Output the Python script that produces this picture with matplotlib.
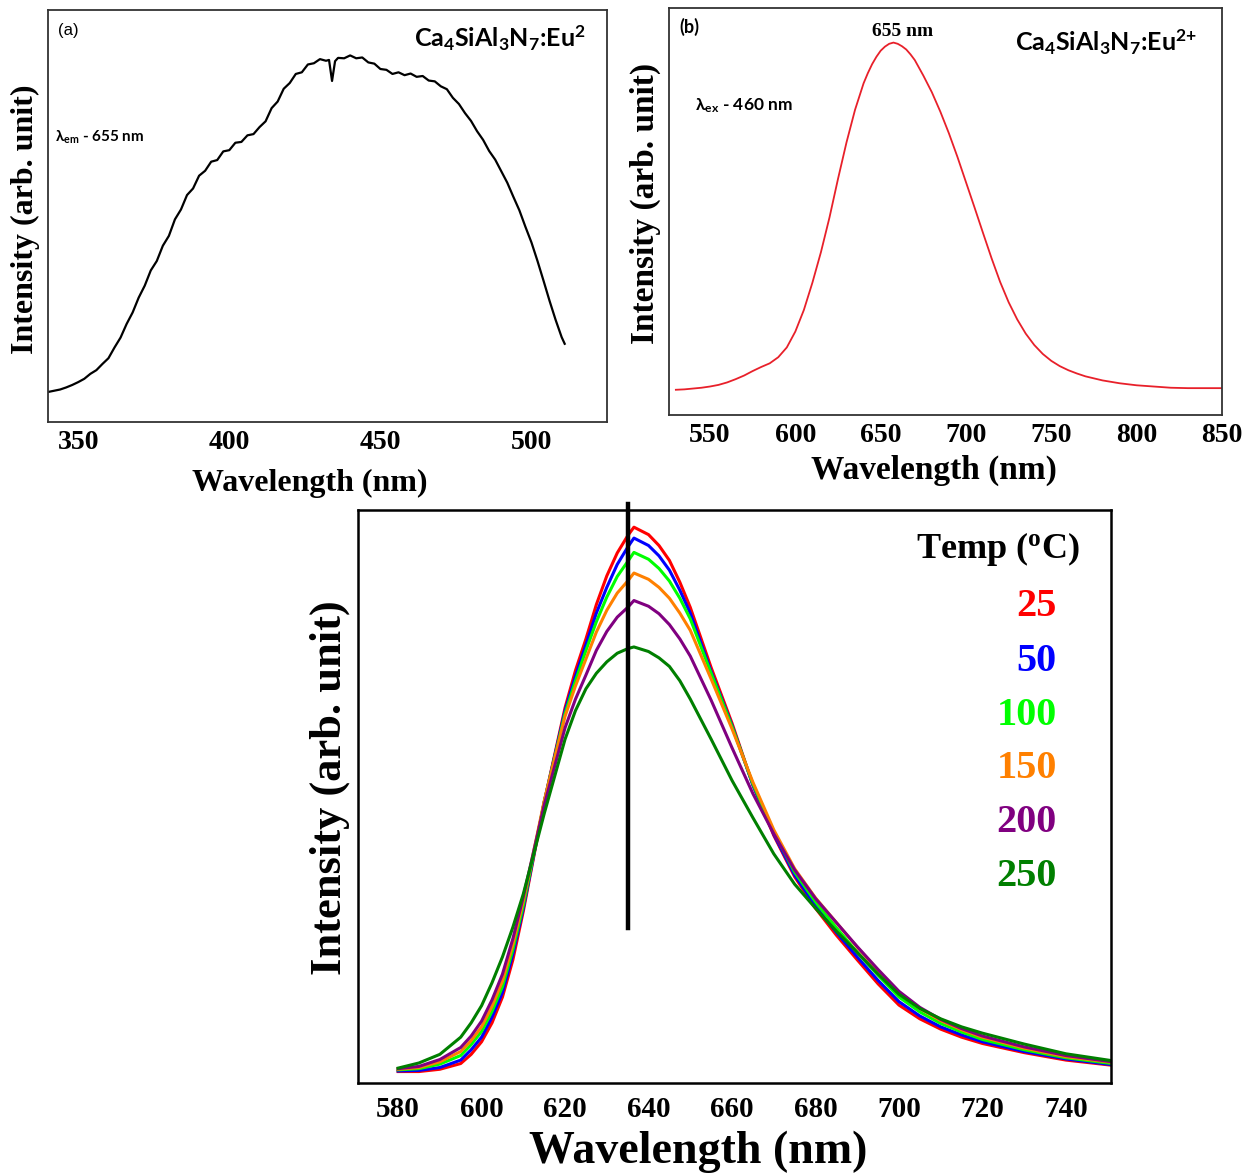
import matplotlib
matplotlib.use("Agg")
import matplotlib.pyplot as plt

plt.rcParams['mathtext.fontset'] = 'custom'
plt.rcParams['mathtext.rm'] = 'Lato:bold'
plt.rcParams['mathtext.it'] = 'Lato:bold'
plt.rcParams['mathtext.bf'] = 'Liberation Serif:bold'

SERIF = 'Liberation Serif'
SANS = ['Lato', 'DejaVu Sans']

# (a) excitation spectrum, lambda_em = 655 nm
exc_wl = [340, 342, 344, 346, 348, 350, 352, 354, 356, 358, 360, 362, 364, 366, 368,
          370, 372, 374, 376, 378, 380, 382, 384, 386, 388, 390, 392, 394, 396, 398,
          400, 402, 404, 406, 408, 410, 412, 414, 416, 418, 420, 422, 424, 426, 428,
          430, 432, 433, 434, 435, 436, 438, 440, 442, 444, 446, 448, 450, 452, 454,
          456, 458, 460, 462, 464, 466, 468, 470, 472, 474, 476, 478, 480, 482, 484,
          486, 488, 490, 492, 494, 496, 498, 500, 502, 504, 506, 508, 510, 511]
exc_int = [0.073, 0.076, 0.079, 0.084, 0.090, 0.097, 0.105, 0.117, 0.126, 0.141, 0.155, 0.181, 0.205, 0.238, 0.266,
           0.302, 0.331, 0.368, 0.391, 0.428, 0.452, 0.492, 0.516, 0.551, 0.567, 0.598, 0.610, 0.632, 0.636, 0.657,
           0.660, 0.678, 0.680, 0.696, 0.699, 0.716, 0.730, 0.762, 0.778, 0.809, 0.823, 0.845, 0.849, 0.868, 0.871,
           0.881, 0.877, 0.879, 0.828, 0.876, 0.884, 0.883, 0.890, 0.883, 0.885, 0.873, 0.870, 0.857, 0.855, 0.845,
           0.849, 0.842, 0.846, 0.838, 0.840, 0.829, 0.827, 0.815, 0.808, 0.787, 0.772, 0.750, 0.731, 0.706, 0.685,
           0.658, 0.637, 0.609, 0.581, 0.547, 0.514, 0.474, 0.436, 0.391, 0.343, 0.294, 0.248, 0.206, 0.190]

# (b) emission spectrum, lambda_ex = 460 nm
em_wl = [530, 535, 540, 545, 550, 555, 560, 565, 570, 575, 580, 585, 590, 595, 600,
         605, 610, 615, 620, 625, 630, 635, 640, 642.5, 645, 647.5, 650, 652.5, 655, 657.5,
         660, 662.5, 665, 667.5, 670, 675, 680, 685, 690, 695, 700, 705, 710, 715, 720,
         725, 730, 735, 740, 745, 750, 755, 760, 765, 770, 780, 790, 800, 810, 820,
         830, 840, 850]
em_int = [0.062, 0.063, 0.065, 0.067, 0.070, 0.074, 0.080, 0.088, 0.097, 0.108, 0.118, 0.127, 0.142, 0.166, 0.205,
          0.258, 0.325, 0.400, 0.485, 0.580, 0.670, 0.750, 0.815, 0.840, 0.862, 0.880, 0.895, 0.905, 0.912, 0.915,
          0.912, 0.906, 0.898, 0.886, 0.872, 0.834, 0.793, 0.745, 0.692, 0.634, 0.572, 0.510, 0.447, 0.385, 0.327,
          0.277, 0.235, 0.200, 0.172, 0.150, 0.133, 0.120, 0.110, 0.102, 0.095, 0.085, 0.078, 0.073, 0.070, 0.067,
          0.066, 0.066, 0.066]

# (c) temperature-dependent emission
t_wl = [580, 585, 590, 595, 597.5, 600, 602.5, 605, 607.5, 610, 615, 620, 622.5, 625, 627.5,
        630, 632.5, 635, 636.5, 640, 642.5, 645, 647.5, 650, 655, 660, 665, 670, 675, 680,
        685, 690, 695, 700, 705, 710, 715, 720, 730, 740, 751]
temps = ['25', '50', '100', '150', '200', '250']
colors = ['#FF0000', '#0000FF', '#00FF00', '#FF8000', '#800080', '#007F00']
int_25 = [0.020, 0.020, 0.024, 0.034, 0.050, 0.072, 0.105, 0.150, 0.215, 0.300, 0.490, 0.655, 0.720, 0.775, 0.835,
          0.885, 0.925, 0.955, 0.970, 0.957, 0.938, 0.912, 0.874, 0.830, 0.725, 0.628, 0.520, 0.432, 0.360, 0.305,
          0.258, 0.215, 0.173, 0.136, 0.112, 0.094, 0.080, 0.069, 0.053, 0.040, 0.031]
int_50 = [0.021, 0.022, 0.027, 0.040, 0.058, 0.080, 0.115, 0.158, 0.225, 0.305, 0.490, 0.650, 0.710, 0.765, 0.820,
          0.865, 0.905, 0.935, 0.951, 0.938, 0.920, 0.895, 0.860, 0.820, 0.718, 0.624, 0.520, 0.434, 0.363, 0.309,
          0.263, 0.220, 0.179, 0.142, 0.117, 0.098, 0.084, 0.072, 0.055, 0.042, 0.032]
int_100 = [0.023, 0.025, 0.033, 0.048, 0.067, 0.090, 0.125, 0.168, 0.233, 0.310, 0.490, 0.645, 0.702, 0.755, 0.805,
           0.848, 0.884, 0.910, 0.926, 0.914, 0.898, 0.876, 0.846, 0.810, 0.715, 0.622, 0.522, 0.438, 0.368, 0.316,
           0.271, 0.228, 0.188, 0.150, 0.124, 0.104, 0.089, 0.076, 0.058, 0.044, 0.034]
int_150 = [0.024, 0.027, 0.037, 0.055, 0.074, 0.098, 0.134, 0.178, 0.242, 0.318, 0.492, 0.640, 0.693, 0.740, 0.787,
           0.825, 0.855, 0.876, 0.890, 0.879, 0.865, 0.846, 0.820, 0.790, 0.705, 0.618, 0.525, 0.442, 0.374, 0.323,
           0.280, 0.237, 0.196, 0.158, 0.130, 0.109, 0.093, 0.080, 0.061, 0.046, 0.036]
int_200 = [0.025, 0.029, 0.041, 0.062, 0.082, 0.108, 0.145, 0.190, 0.252, 0.325, 0.485, 0.620, 0.670, 0.712, 0.755,
           0.788, 0.813, 0.830, 0.842, 0.832, 0.819, 0.800, 0.775, 0.745, 0.668, 0.585, 0.505, 0.435, 0.372, 0.322,
           0.280, 0.238, 0.198, 0.160, 0.132, 0.111, 0.095, 0.082, 0.063, 0.048, 0.037]
int_250 = [0.026, 0.035, 0.050, 0.080, 0.105, 0.135, 0.175, 0.220, 0.272, 0.330, 0.470, 0.600, 0.650, 0.688, 0.715,
           0.735, 0.750, 0.758, 0.761, 0.753, 0.742, 0.727, 0.702, 0.670, 0.600, 0.528, 0.463, 0.400, 0.347, 0.305,
           0.265, 0.228, 0.190, 0.155, 0.130, 0.112, 0.098, 0.087, 0.068, 0.051, 0.039]
t_series = [int_25, int_50, int_100, int_150, int_200, int_250]
peak_wl = 635


def style_axes(ax, lw, color):
    for s in ax.spines.values():
        s.set_linewidth(lw)
        s.set_color(color)
    ax.set_yticks([])
    ax.tick_params(axis='x', length=0)


fig = plt.figure(figsize=(12.51, 11.74), dpi=100)

# ---- (a)
ax1 = fig.add_axes([0.0384, 0.6405, 0.4468, 0.3509])
ax1.plot(exc_wl, exc_int, color='black', lw=1.6)
ax1.set_xlim(340, 525)
ax1.set_ylim(0, 1)
ax1.set_xticks([350, 400, 450, 500])
style_axes(ax1, 1.3, '#333333')
ax1.tick_params(axis='x', pad=6)
for t in ax1.get_xticklabels():
    t.set_fontfamily(SERIF)
    t.set_fontweight('bold')
    t.set_fontsize(20)
ax1.set_xlabel('Wavelength (nm)', fontfamily=SERIF, fontweight='bold', fontsize=23, va='center')
ax1.xaxis.set_label_coords(0.469, -0.148)
ax1.set_ylabel('Intensity (arb. unit)', fontfamily=SERIF, fontweight='bold', fontsize=23, va='center')
ax1.yaxis.set_label_coords(-0.041, 0.493)
ax1.text(0.018, 0.951, '(a)', transform=ax1.transAxes, family=['Liberation Sans'], fontsize=12,
         ha='left', va='center')
ax1.text(0.961, 0.932, r'Ca$\mathrm{_4}$SiAl$\mathrm{_3}$N$\mathrm{_7}$:Eu$\mathrm{^2}$', transform=ax1.transAxes,
         family=SANS, fontweight='bold', fontsize=18, ha='right', va='center')
ax1.text(0.0125, 0.692, r'λ$\mathrm{_{em}}$ - 655 nm', transform=ax1.transAxes,
         family=SANS, fontweight='bold', fontsize=11, ha='left', va='center')

# ---- (b)
ax2 = fig.add_axes([0.5348, 0.6465, 0.4420, 0.3467])
ax2.plot(em_wl, em_int, color='#E8202A', lw=1.3)
ax2.set_xlim(526, 850)
ax2.set_ylim(0, 1)
ax2.set_xticks([550, 600, 650, 700, 750, 800, 850])
style_axes(ax2, 1.3, '#333333')
ax2.tick_params(axis='x', pad=6)
for t in ax2.get_xticklabels():
    t.set_fontfamily(SERIF)
    t.set_fontweight('bold')
    t.set_fontsize(20)
ax2.set_xlabel('Wavelength (nm)', fontfamily=SERIF, fontweight='bold', fontsize=24, va='center')
ax2.xaxis.set_label_coords(0.479, -0.135)
ax2.set_ylabel('Intensity (arb. unit)', fontfamily=SERIF, fontweight='bold', fontsize=24, va='center')
ax2.yaxis.set_label_coords(-0.0434, 0.521)
ax2.text(0.018, 0.953, '(b)', transform=ax2.transAxes, family=SANS, fontweight='bold', fontsize=13,
         ha='left', va='center')
ax2.text(0.423, 0.943, '655 nm', transform=ax2.transAxes, family=SERIF, fontweight='bold', fontsize=14,
         ha='center', va='center')
ax2.text(0.955, 0.916, r'Ca$\mathrm{_4}$SiAl$\mathrm{_3}$N$\mathrm{_7}$:Eu$\mathrm{^{2{+}}}$', transform=ax2.transAxes,
         family=SANS, fontweight='bold', fontsize=18, ha='right', va='center')
ax2.text(0.047, 0.759, r'λ$\mathrm{_{ex}}$ - 460 nm', transform=ax2.transAxes,
         family=SANS, fontweight='bold', fontsize=12.5, ha='left', va='center')

# ---- (c)
ax3 = fig.add_axes([0.2862, 0.0775, 0.6019, 0.4881])
for vals, c in zip(t_series, colors):
    ax3.plot(t_wl, vals, color=c, lw=2.2)
ax3.plot([peak_wl, peak_wl], [0.27, 1.01], color='black', lw=3.2, clip_on=False)
ax3.set_xlim(570.4, 750.8)
ax3.set_ylim(0, 1)
ax3.set_xticks([580, 600, 620, 640, 660, 680, 700, 720, 740])
style_axes(ax3, 1.8, 'black')
ax3.tick_params(axis='x', pad=9)
for t in ax3.get_xticklabels():
    t.set_fontfamily(SERIF)
    t.set_fontweight('bold')
    t.set_fontsize(21)
ax3.set_xlabel('Wavelength (nm)', fontfamily=SERIF, fontweight='bold', fontsize=33, va='center')
ax3.xaxis.set_label_coords(0.4515, -0.120)
ax3.set_ylabel('Intensity (arb. unit)', fontfamily=SERIF, fontweight='bold', fontsize=32, va='center')
ax3.yaxis.set_label_coords(-0.037, 0.515)
ax3.text(0.959, 0.932, r'Temp ($\mathbf{^{o}}$C)', transform=ax3.transAxes, family=SERIF,
         fontweight='bold', fontsize=26, ha='right', va='center')
label_y = [0.831, 0.736, 0.642, 0.548, 0.454, 0.360]
for lab, c, y in zip(temps, colors, label_y):
    ax3.text(0.928, y, lab, transform=ax3.transAxes, family=SERIF, fontweight='bold',
             fontsize=29, color=c, ha='right', va='center')

fig.savefig('out.png', dpi=100)
